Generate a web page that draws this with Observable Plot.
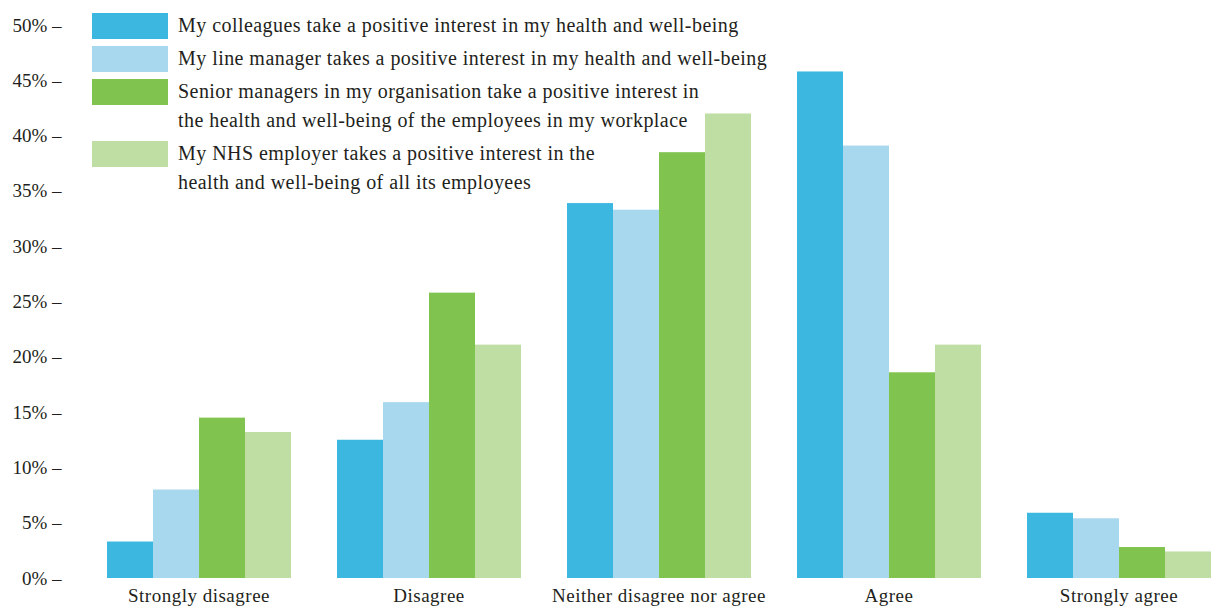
<!DOCTYPE html>
<html>
<head>
<meta charset="utf-8">
<script src="https://cdn.jsdelivr.net/npm/d3@7"></script>
<script src="https://cdn.jsdelivr.net/npm/@observablehq/plot@0.6"></script>
<style>
  html, body { margin: 0; padding: 0; background: #fff; }
  #wrap { position: relative; width: 1213px; height: 606px; font-family: "Liberation Serif", serif; color: #231f20; }
  #legend { position: absolute; left: 92px; top: 12px; }
  .item { display: flex; align-items: flex-start; margin-bottom: 5.5px; }
  .sw { width: 76px; height: 26px; margin-top: 1px; flex: none; }
  .lab { margin-left: 10px; font-size: 20px; letter-spacing: 0.45px; line-height: 29px; white-space: pre-line; margin-top: -1.5px; }
  #chart svg g[aria-label="fx-axis tick label"] text { letter-spacing: 0.5px; }
</style>
</head>
<body>
<div id="wrap"><div id="chart"></div><div id="legend"></div></div>
<script>
const responses = ["Strongly disagree", "Disagree", "Neither disagree nor agree", "Agree", "Strongly agree"];
const series = [
  "My colleagues take a positive interest in my health and well-being",
  "My line manager takes a positive interest in my health and well-being",
  "Senior managers in my organisation take a positive interest in\nthe health and well-being of the employees in my workplace",
  "My NHS employer takes a positive interest in the\nhealth and well-being of all its employees"
];
const colors = ["#3cb8e0", "#a8d8ed", "#80c34f", "#bfdea3"];
const colleagues  = [3.3, 12.5, 33.9, 45.8, 5.9];
const lineManager = [8.0, 15.9, 33.3, 39.1, 5.4];
const seniorMgrs  = [14.5, 25.8, 38.5, 18.6, 2.8];
const nhsEmployer = [13.2, 21.1, 42.0, 21.1, 2.4];
const yTicks = [0, 5, 10, 15, 20, 25, 30, 35, 40, 45, 50];

const seriesValues = [colleagues, lineManager, seniorMgrs, nhsEmployer];
const data = [];
responses.forEach((r, i) => {
  series.forEach((s, j) => data.push({response: r, series: s, value: seriesValues[j][i]}));
});

const chart = Plot.plot({
  width: 1213,
  height: 606,
  marginLeft: 104,
  marginRight: 0,
  marginTop: 25,
  marginBottom: 28,
  style: {fontFamily: "Liberation Serif, serif", fontSize: "18px", color: "#231f20", background: "transparent"},
  fx: {domain: responses, paddingInner: 0.185, paddingOuter: 0, label: null},
  x: {domain: series, padding: 0, axis: null},
  y: {domain: [0, 50], label: null},
  color: {domain: series, range: colors},
  marks: [
    Plot.barY(data, {fx: "response", x: "series", y: "value", fill: "series", inset: 0}),
    Plot.axisY({ticks: yTicks, tickSize: 0, tickPadding: 44, tickFormat: d => `${d}% –`, label: null, fontSize: 19}),
    Plot.axisFx({anchor: "bottom", tickSize: 0, tickPadding: 10, label: null, fontSize: 19})
  ]
});
document.getElementById("chart").appendChild(chart);

const legend = document.getElementById("legend");
series.forEach((s, j) => {
  const item = document.createElement("div");
  item.className = "item";
  const sw = document.createElement("div");
  sw.className = "sw";
  sw.style.background = colors[j];
  const lab = document.createElement("div");
  lab.className = "lab";
  lab.textContent = s;
  item.appendChild(sw);
  item.appendChild(lab);
  legend.appendChild(item);
});
</script>
</body>
</html>
